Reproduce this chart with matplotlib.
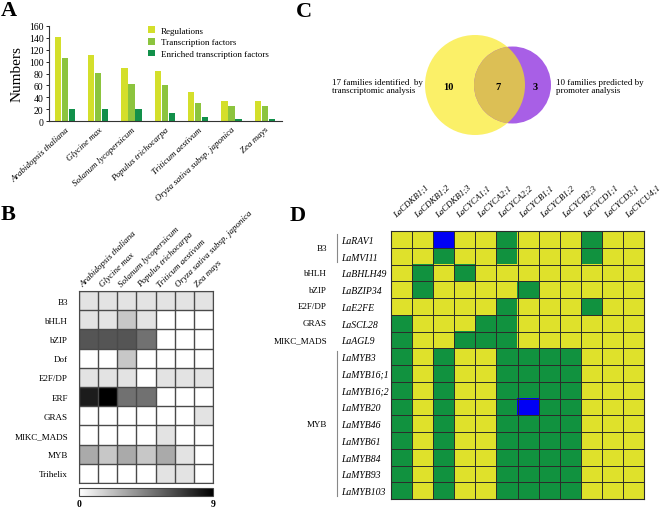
import numpy as np
import matplotlib
matplotlib.use('Agg')
import matplotlib.pyplot as plt
from matplotlib.colors import LinearSegmentedColormap, ListedColormap
from matplotlib.patches import Circle
from matplotlib.lines import Line2D
from matplotlib.transforms import blended_transform_factory, ScaledTranslation

plt.rcParams['font.family'] = ['Liberation Serif', 'DejaVu Serif']

# ---------------- data ----------------
species = ['Arabidopsis thaliana', 'Glycine max', 'Solanum lycopersicum',
           'Populus trichocarpa', 'Triticum aestivum',
           'Oryza sativa subsp. japonica', 'Zea mays']
regulations = [142, 111, 89, 84, 49, 34, 33]
transcription_factors = [106, 81, 63, 60, 30, 26, 25]
enriched_tfs = [20, 20, 20, 14, 7, 4, 3]

families_B = ['B3', 'bHLH', 'bZIP', 'Dof', 'E2F/DP', 'ERF', 'GRAS',
              'MIKC_MADS', 'MYB', 'Trihelix']
counts_B = [
    [1, 1, 1, 1, 1, 1, 1],
    [1, 1, 2, 1, 0, 0, 0],
    [6, 6, 6, 5, 0, 0, 0],
    [0, 0, 2, 0, 0, 0, 0],
    [1, 1, 1, 0, 1, 1, 1],
    [8, 9, 5, 5, 0, 0, 0],
    [0, 0, 0, 0, 0, 0, 1],
    [0, 0, 0, 0, 1, 0, 0],
    [3, 2, 3, 2, 3, 1, 0],
    [0, 0, 0, 0, 1, 1, 0],
]

venn_counts = [10, 7, 3]  # only transcriptomic, both, only promoter
venn_left_text = '17 families identified  by\ntranscriptomic analysis'
venn_right_text = '10 families predicted by\npromoter analysis'

targets_D = ['LaCDKB1;1', 'LaCDKB1;2', 'LaCDKB1;3', 'LaCYCA1;1', 'LaCYCA2;1',
             'LaCYCA2;2', 'LaCYCB1;1', 'LaCYCB1;2', 'LaCYCB2;3', 'LaCYCD1;1',
             'LaCYCD3;1', 'LaCYCU4;1']
regulators_D = ['LaRAV1', 'LaMVI11', 'LaBHLH49', 'LaBZIP34', 'LaE2FE',
                'LaSCL28', 'LaAGL9', 'LaMYB3', 'LaMYB16;1', 'LaMYB16;2',
                'LaMYB20', 'LaMYB46', 'LaMYB61', 'LaMYB84', 'LaMYB93',
                'LaMYB103']
families_D = ['B3', 'bHLH', 'bZIP', 'E2F/DP', 'GRAS', 'MIKC_MADS', 'MYB']
family_sizes_D = [2, 1, 1, 1, 1, 1, 9]
interactions_D = [
    [0, 0, 2, 0, 0, 1, 0, 0, 0, 1, 0, 0],
    [0, 0, 1, 0, 0, 1, 0, 0, 0, 1, 0, 0],
    [0, 1, 0, 1, 0, 0, 0, 0, 0, 0, 0, 0],
    [0, 1, 0, 0, 0, 0, 1, 0, 0, 0, 0, 0],
    [0, 0, 0, 0, 0, 1, 0, 0, 0, 1, 0, 0],
    [1, 0, 0, 0, 1, 1, 0, 0, 0, 0, 0, 0],
    [1, 0, 0, 1, 1, 1, 0, 0, 0, 0, 0, 0],
    [1, 0, 1, 0, 0, 1, 1, 1, 1, 0, 0, 0],
    [1, 0, 1, 0, 0, 1, 1, 1, 1, 0, 0, 0],
    [1, 0, 1, 0, 0, 1, 1, 1, 1, 0, 0, 0],
    [1, 0, 1, 0, 0, 1, 2, 1, 1, 0, 0, 0],
    [1, 0, 1, 0, 0, 1, 1, 1, 1, 0, 0, 0],
    [1, 0, 1, 0, 0, 1, 1, 1, 1, 0, 0, 0],
    [1, 0, 1, 0, 0, 1, 1, 1, 1, 0, 0, 0],
    [1, 0, 1, 0, 0, 1, 1, 1, 1, 0, 0, 0],
    [1, 0, 1, 0, 0, 1, 1, 1, 1, 0, 0, 0],
]

# ---------------- figure ----------------
W, H = 666, 510
fig = plt.figure(figsize=(W / 100, H / 100), dpi=100)


def add_ax(x0, y0, x1, y1):
    return fig.add_axes([x0 / W, 1 - y1 / H, (x1 - x0) / W, (y1 - y0) / H])


over = fig.add_axes([0, 0, 1, 1])
over.set_xlim(0, W)
over.set_ylim(H, 0)
over.axis('off')

# ---------------- Panel A ----------------
axA = add_ax(49, 27, 282, 122)
x = np.arange(len(species))
bw = 0.19
c_reg, c_tf, c_en = '#d4df2b', '#8cc43e', '#12904a'
axA.bar(x - 0.21, regulations, bw, color=c_reg, label='Regulations')
axA.bar(x, transcription_factors, bw, color=c_tf, label='Transcription factors')
axA.bar(x + 0.21, enriched_tfs, bw, color=c_en, label='Enriched transcription factors')
axA.set_xlim(-0.48, len(species) - 0.48)
axA.set_ylim(0, 160)
axA.set_yticks(np.arange(0, 161, 20))
for s in ['top', 'right']:
    axA.spines[s].set_visible(False)
for s in ['left', 'bottom']:
    axA.spines[s].set_linewidth(0.8)
    axA.spines[s].set_color('#333333')
axA.tick_params(axis='y', labelsize=7, length=2, width=0.6, pad=2)
axA.tick_params(axis='x', length=0, pad=3)
axA.set_xticks(x)
axA.set_xticklabels(species, rotation=43, ha='right', rotation_mode='anchor',
                    fontstyle='italic', fontsize=6.5)
axA.set_ylabel('Numbers', fontsize=11, labelpad=4)
axA.legend(loc='upper left', bbox_to_anchor=((148 - 49) / 233, 1.0),
           frameon=False, fontsize=6.5, handlelength=0.8, handleheight=0.8,
           handletextpad=0.6, labelspacing=0.35, borderpad=0, borderaxespad=0)

# ---------------- Panel B ----------------
axB = add_ax(79, 292, 213, 484)
grey_cmap = LinearSegmentedColormap.from_list('wb', ['#ffffff', '#000000'])
imB = axB.imshow(counts_B, cmap=grey_cmap, vmin=0, vmax=9, aspect='auto')
axB.set_xticks(np.arange(-0.5, len(species)), minor=True)
axB.set_yticks(np.arange(-0.5, len(families_B)), minor=True)
axB.grid(which='minor', color='#4a4a4a', lw=1)
axB.tick_params(which='both', length=0)
for s in axB.spines.values():
    s.set_color('#4a4a4a')
axB.set_yticks(np.arange(len(families_B)))
axB.set_yticklabels(families_B, fontsize=6.5)
axB.tick_params(axis='y', pad=8)
axB.xaxis.tick_top()
axB.set_xticks(np.arange(len(species)))
labs = axB.set_xticklabels(species, rotation=45, ha='left', va='bottom',
                           rotation_mode='anchor', fontstyle='italic', fontsize=6.5)
axB.tick_params(axis='x', pad=2)
for lab in labs:
    lab.set_transform(lab.get_transform() + ScaledTranslation(-4 / 100, 0, fig.dpi_scale_trans))

axCB = add_ax(79, 489, 213, 497)
cb = fig.colorbar(imB, cax=axCB, orientation='horizontal', ticks=[0, 9])
cb.ax.tick_params(length=0, labelsize=7, pad=2)
for t in cb.ax.get_xticklabels():
    t.set_fontweight('bold')
cb.outline.set_edgecolor('#444444')
cb.outline.set_linewidth(0.8)

# ---------------- Panel C (Venn) ----------------
cy = 86
c_yel, c_pur, c_ovl = '#fbf068', '#a85fe6', '#dcbf55'
big = Circle((475, cy), 50, fc=c_yel, ec='none')
small = Circle((512.5, cy), 38.5, fc=c_pur, ec='none')
over.add_patch(big)
over.add_patch(small)
ovl = Circle((475, cy), 50, fc=c_ovl, ec='none')
over.add_patch(ovl)
ovl.set_clip_path(small)
for xx, v in zip([448, 498, 535], venn_counts):
    over.text(xx, cy + 1, str(v), ha='center', va='center', fontsize=7.5,
              fontweight='bold')
over.text(332, cy + 1, venn_left_text, ha='left', va='center', fontsize=6.5,
          linespacing=1.1)
over.text(556, cy + 1, venn_right_text, ha='left', va='center', fontsize=6.5,
          linespacing=1.1)

# ---------------- Panel D ----------------
axD = add_ax(391, 232, 644, 500)
cmapD = ListedColormap(['#dfe12b', '#11923f', '#0000f5'])
axD.imshow(interactions_D, cmap=cmapD, vmin=-0.5, vmax=2.5, aspect='auto')
axD.set_xticks(np.arange(-0.5, len(targets_D)), minor=True)
axD.set_yticks(np.arange(-0.5, len(regulators_D)), minor=True)
axD.grid(which='minor', color='#2b2b2b', lw=0.7)
axD.tick_params(which='both', length=0)
for s in axD.spines.values():
    s.set_color('#2b2b2b')
    s.set_linewidth(0.8)
axD.xaxis.tick_top()
axD.set_xticks(np.arange(len(targets_D)))
labsD = axD.set_xticklabels(targets_D, rotation=42, ha='left', va='bottom',
                            rotation_mode='anchor', fontstyle='italic', fontsize=6.3)
axD.tick_params(axis='x', pad=9)
for lab in labsD:
    lab.set_transform(lab.get_transform() + ScaledTranslation(-4 / 100, 0, fig.dpi_scale_trans))
axD.set_yticks(np.arange(len(regulators_D)))
axD.set_yticklabels(regulators_D, fontstyle='italic', fontsize=7, ha='left')
axD.tick_params(axis='y', pad=36)

trans = blended_transform_factory(over.transData, axD.transData)
start = 0
for fam, n in zip(families_D, family_sizes_D):
    center = start + (n - 1) / 2
    over.text(327, center, fam, ha='right', va='center', fontsize=6.5,
              transform=trans)
    if n > 1:
        over.add_line(Line2D([337, 337], [start - 0.35, start + n - 1 + 0.35],
                             transform=trans, color='#888888', lw=0.8))
    start += n

# ---------------- Panel labels ----------------
for lab, (px, py) in zip('ABCD', [(9, 11), (8, 215), (304, 12), (298, 216)]):
    over.text(px, py, lab, ha='center', va='center', fontsize=16,
              fontweight='bold')

over.set_xlim(0, W)
over.set_ylim(H, 0)
fig.savefig('out.png', dpi=100)
